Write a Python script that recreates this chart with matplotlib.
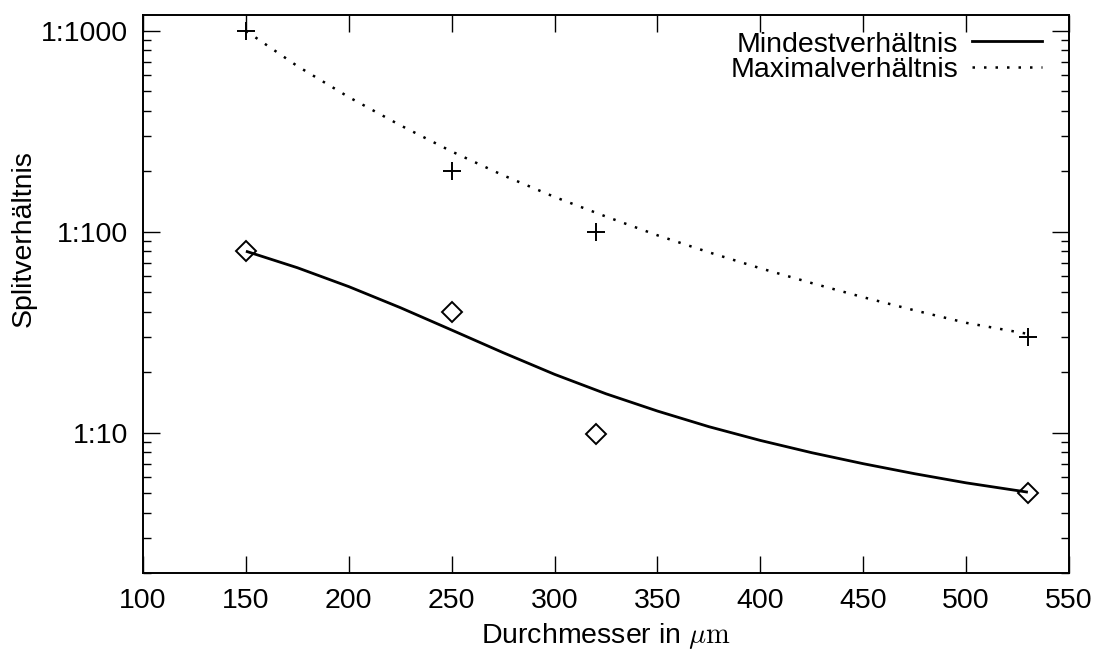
import matplotlib
matplotlib.use("Agg")
import matplotlib.pyplot as plt
from matplotlib.ticker import FixedLocator, NullFormatter

plt.rcParams['font.family'] = ['Liberation Sans', 'DejaVu Sans']
plt.rcParams['mathtext.fontset'] = 'cm'

# measured points
diam_pts = [150, 250, 320, 530]
min_pts = [80, 40, 9.8, 5]
max_pts = [1000, 200, 100, 30]

# fitted curves
curve_x = [150, 175, 200, 225, 250, 275, 300, 325, 350, 375, 400, 425, 450, 475, 500, 530]
min_curve = [80, 66.2, 53.3, 41.9, 32.4, 25.0, 19.5, 15.6, 12.8, 10.7, 9.14, 7.94, 7.0, 6.24, 5.62, 5.05]
max_curve = [1000, 668, 468, 339, 251, 191, 149, 119, 96, 79, 65.8, 55.5, 47.2, 40.6, 35.2, 31]

x_ticks = [100, 150, 200, 250, 300, 350, 400, 450, 500, 550]
y_ticks = [10, 100, 1000]
y_ticklabels = ["1:10", "1:100", "1:1000"]
legend_labels = ["Mindestverhältnis", "Maximalverhältnis"]

FS = 20.5

fig = plt.figure(figsize=(10.97, 6.52), dpi=100)
ax = fig.add_axes([0.1304, 0.1212, 0.9745 - 0.1304, 0.977 - 0.1212])

ax.plot(curve_x, min_curve, color='black', lw=2.0, solid_capstyle='butt',
        solid_joinstyle='round')
ax.plot(curve_x, max_curve, color='black', lw=1.8, linestyle=(0, (1, 3.6)))
ax.plot(diam_pts, min_pts, linestyle='none', marker='D', markersize=10,
        markerfacecolor='none', markeredgecolor='black', markeredgewidth=1.4)
ax.plot(diam_pts, max_pts, linestyle='none', marker='+', markersize=12.5,
        color='black', markeredgewidth=1.4)

ax.set_yscale('log')
ax.set_xlim(100, 550)
ax.set_ylim(2, 1200)

ax.set_xticks(x_ticks)
ax.set_xticklabels([str(v) for v in x_ticks])
ax.yaxis.set_major_locator(FixedLocator(y_ticks))
ax.set_yticklabels(y_ticklabels)
minors = [m * d for d in (1, 10, 100) for m in range(2, 10) if 2 <= m * d <= 1200]
ax.yaxis.set_minor_locator(FixedLocator(minors))
ax.yaxis.set_minor_formatter(NullFormatter())
ax.xaxis.set_minor_locator(FixedLocator([]))

ax.tick_params(which='major', direction='in', length=12, width=1.0,
               top=True, right=True, labelsize=FS, pad=11, colors='black')
ax.tick_params(which='minor', direction='in', length=6, width=1.0,
               top=True, right=True)
for s in ax.spines.values():
    s.set_linewidth(1.4)

ax.set_xlabel(r"Durchmesser in $\mu\mathrm{m}$", fontsize=FS, labelpad=4.5)
ax.set_ylabel("Splitverhältnis", fontsize=FS)
ax.yaxis.set_label_coords(-0.115, 0.60)

# legend (manual, right-aligned text like the original)
ax.text(0.880, 0.934, legend_labels[0], transform=ax.transAxes, ha='right',
        va='baseline', fontsize=FS)
ax.text(0.880, 0.889, legend_labels[1], transform=ax.transAxes, ha='right',
        va='baseline', fontsize=FS)
ax.plot([0.895, 0.971], [0.954, 0.954], transform=ax.transAxes, color='black', lw=2.0)
ax.plot([0.895, 0.971], [0.906, 0.906], transform=ax.transAxes, color='black', lw=1.8,
        linestyle=(0, (1, 3.6)))

fig.savefig("out.png", dpi=100)
